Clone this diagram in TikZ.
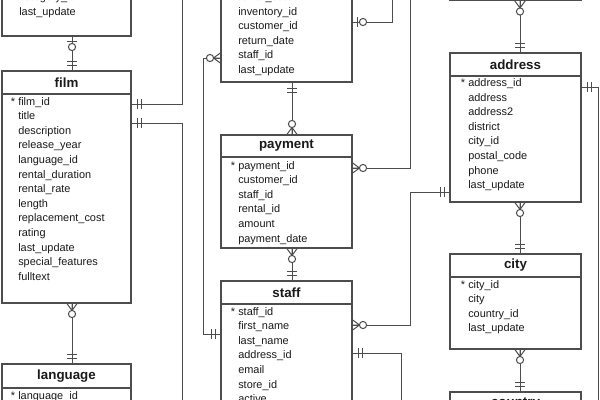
\documentclass[tikz,border=0pt]{standalone}
\usepackage{fontspec}
\setmainfont{Liberation Sans}
\usetikzlibrary{fit}
\definecolor{edgec}{HTML}{4D4D4D}
\definecolor{ink}{HTML}{1A1A1A}
\begin{document}
\begin{tikzpicture}[x=0.75pt,y=-0.75pt,
  tbl/.style={draw=edgec, line width=0.9pt, fill=white, inner sep=0pt, outer sep=0pt},
  hdr/.style={draw=edgec, line width=0.9pt, inner sep=0pt, outer sep=0pt},
  ttl/.style={font=\fontsize{10}{12}\selectfont\bfseries, text=ink, inner sep=0pt},
  attr/.style={font=\fontsize{8.2}{10}\selectfont, text=ink, inner sep=0pt, anchor=base west},
  keystar/.style={font=\fontsize{8.2}{10}\selectfont, text=ink, inner sep=0pt, anchor=base east},
  conn/.style={draw=edgec, line width=0.75pt},
  pics/manyo/.style={code={
    \draw[conn] (0,-5.5) -- (7.5,0) -- (0,5.5) (0,0) -- (7.5,0);
    \draw[conn, fill=white] (11,0) circle[radius=3.6];}},
  pics/onlyone/.style={code={
    \draw[conn] (6,-5) -- (6,5) (10,-5) -- (10,5);}},
  pics/oneo/.style={code={
    \draw[conn] (5,-5) -- (5,5);
    \draw[conn, fill=white] (11,0) circle[radius=3.6];}}
]
\clip (0,0) rectangle (600,400);
\fill[white] (0,0) rectangle (600,400);

% ---------- tables ----------
% film_category
\node[tbl, fit={(2,-80) (131,36)}] (fcat) {};
\node[attr] (fcat-1) at (19,0) {category\_id};
\node[attr] (fcat-2) at (19,15) {last\_update};

% film
\node[tbl, fit={(2,71) (131,303)}] (film) {};
\node[hdr, fit={(2,71) (131,94)}] (film-h) {};
\node[ttl] (film-t) at (film-h.center) {film};
\node[keystar] (film-s) at (15.5,105) {*};
\foreach \t [count=\i] in {film\_id,title,description,release\_year,language\_id,rental\_duration,rental\_rate,length,replacement\_cost,rating,last\_update,special\_features,fulltext}
  \node[attr] (film-\i) at (18,{105+14.6*(\i-1)}) {\t};

% language
\node[tbl, fit={(2,364) (131,480)}] (lang) {};
\node[hdr, fit={(2,364) (131,388)}] (lang-h) {};
\node[ttl] (lang-t) at (lang-h.center) {language};
\node[keystar] (lang-s) at (15.5,399) {*};
\node[attr] (lang-1) at (18,399) {language\_id};

% rental
\node[tbl, fit={(221,-100) (352,82)}] (rental) {};
\foreach \t [count=\i] in {rental\_date,inventory\_id,customer\_id,return\_date,staff\_id,last\_update}
  \node[attr] (rental-\i) at (238,{0.4+14.6*(\i-1)}) {\t};

% payment
\node[tbl, fit={(221,135) (352,248)}] (payment) {};
\node[hdr, fit={(221,135) (352,157)}] (payment-h) {};
\node[ttl] (payment-t) at (payment-h.center) {payment};
\node[keystar] (payment-s) at (235.5,169) {*};
\foreach \t [count=\i] in {payment\_id,customer\_id,staff\_id,rental\_id,amount,payment\_date}
  \node[attr] (payment-\i) at (238,{169+14.6*(\i-1)}) {\t};

% staff
\node[tbl, fit={(221,281) (352,480)}] (staff) {};
\node[hdr, fit={(221,281) (352,304)}] (staff-h) {};
\node[ttl] (staff-t) at (staff-h.center) {staff};
\node[keystar] (staff-s) at (235.5,315) {*};
\foreach \t [count=\i] in {staff\_id,first\_name,last\_name,address\_id,email,store\_id,active}
  \node[attr] (staff-\i) at (238,{315+14.6*(\i-1)}) {\t};

% store (bottom edge only visible)
\node[tbl, fit={(450,-100) (581,0.5)}] (store) {};

% address
\node[tbl, fit={(450,53) (581,202)}] (address) {};
\node[hdr, fit={(450,53) (581,76)}] (address-h) {};
\node[ttl] (address-t) at (address-h.center) {address};
\node[keystar] (address-s) at (465.5,86.5) {*};
\foreach \t [count=\i] in {address\_id,address,address2,district,city\_id,postal\_code,phone,last\_update}
  \node[attr] (address-\i) at (468,{86.5+14.6*(\i-1)}) {\t};

% city
\node[tbl, fit={(450,254) (581,349)}] (city) {};
\node[hdr, fit={(450,254) (581,277)}] (city-h) {};
\node[ttl] (city-t) at (city-h.center) {city};
\node[keystar] (city-s) at (465.5,288) {*};
\foreach \t [count=\i] in {city\_id,city,country\_id,last\_update}
  \node[attr] (city-\i) at (468,{288+14.6*(\i-1)}) {\t};

% country
\node[tbl, fit={(450,392) (581,480)}] (country) {};
\node[hdr, fit={(450,392) (581,415)}] (country-h) {};
\node[ttl] (country-t) at (country-h.center) {country};

% ---------- connector route points ----------
\coordinate (k1) at (72,0);
\coordinate (b2) at (182,104);   \coordinate (e2) at (182,-5);
\coordinate (b3) at (182,123);   \coordinate (e3) at (182,405);
\coordinate (b5a) at (203,58);   \coordinate (b5b) at (203,334);
\coordinate (b6) at (392,22);    \coordinate (e6) at (392,-5);
\coordinate (k7) at (292,0);
\coordinate (b8) at (410,168);   \coordinate (e8) at (410,-5);
\coordinate (b10a) at (410,325); \coordinate (b10b) at (410,192);
\coordinate (b11) at (401,353);  \coordinate (e11) at (401,405);
\coordinate (k12) at (520,0);
\coordinate (b13) at (598,87);   \coordinate (e13) at (598,405);

% ---------- connectors ----------
\draw[conn] (fcat.south -| k1) -- (film.north -| k1);
\draw[conn] (film.east |- b2) -- (b2) -- (e2);
\draw[conn] (film.east |- b3) -- (b3) -- (e3);
\draw[conn] (film.south -| k1) -- (lang.north -| k1);
\draw[conn] (rental.west |- b5a) -- (b5a) -- (b5b) -- (staff.west |- b5b);
\draw[conn] (rental.east |- b6) -- (b6) -- (e6);
\draw[conn] (rental.south -| k7) -- (payment.north -| k7);
\draw[conn] (payment.east |- b8) -- (b8) -- (e8);
\draw[conn] (payment.south -| k7) -- (staff.north -| k7);
\draw[conn] (staff.east |- b10a) -- (b10a) -- (b10b) -- (address.west |- b10b);
\draw[conn] (staff.east |- b11) -- (b11) -- (e11);
\draw[conn] (store.south -| k12) -- (address.north -| k12);
\draw[conn] (address.east |- b13) -- (b13) -- (e13);
\draw[conn] (address.south -| k12) -- (city.north -| k12);
\draw[conn] (city.south -| k12) -- (country.north -| k12);

% ---------- end marks ----------
\pic[rotate=-90] at (fcat.south -| k1) {oneo};
\pic[rotate=90]  at (film.north -| k1) {onlyone};
\pic at (film.east |- b2) {onlyone};
\pic at (film.east |- b3) {onlyone};
\pic[rotate=-90] at (film.south -| k1) {manyo};
\pic[rotate=90]  at (lang.north -| k1) {onlyone};
\pic[rotate=180] at (rental.west |- b5a) {manyo};
\pic[rotate=180] at (staff.west |- b5b) {onlyone};
\pic at (rental.east |- b6) {oneo};
\pic[rotate=-90] at (rental.south -| k7) {onlyone};
\pic[rotate=90]  at (payment.north -| k7) {manyo};
\pic at (payment.east |- b8) {manyo};
\pic[rotate=-90] at (payment.south -| k7) {manyo};
\pic[rotate=90]  at (staff.north -| k7) {onlyone};
\pic at (staff.east |- b10a) {manyo};
\pic[rotate=180] at (address.west |- b10b) {onlyone};
\pic at (staff.east |- b11) {onlyone};
\pic[rotate=-90] at (store.south -| k12) {manyo};
\pic[rotate=90]  at (address.north -| k12) {onlyone};
\pic at (address.east |- b13) {onlyone};
\pic[rotate=-90] at (address.south -| k12) {manyo};
\pic[rotate=90]  at (city.north -| k12) {onlyone};
\pic[rotate=-90] at (city.south -| k12) {manyo};
\pic[rotate=90]  at (country.north -| k12) {onlyone};
\end{tikzpicture}
\end{document}
